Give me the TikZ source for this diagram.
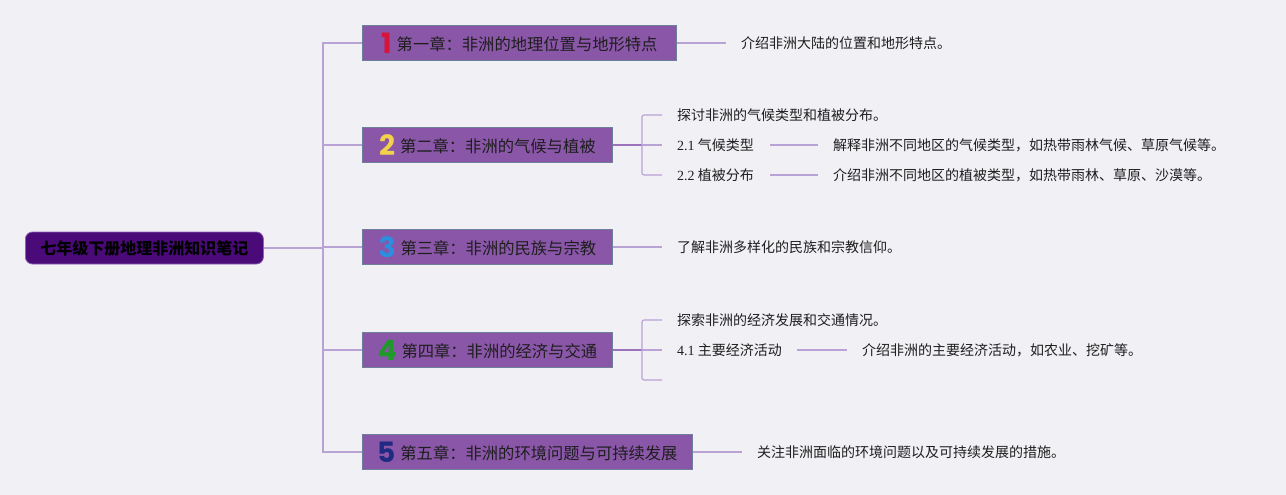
\documentclass[tikz,border=0pt]{standalone}
\usepackage{fontspec}
\setmainfont{Liberation Serif}
\newfontfamily\cjk{Noto Sans CJK SC}
\newfontfamily\numfont{Poppins}
\definecolor{bg}{HTML}{F1F0F5}
\definecolor{boxfill}{HTML}{8A56A8}
\definecolor{boxline}{HTML}{6F7E99}
\definecolor{rootfill}{HTML}{4A0A78}
\definecolor{rootline}{HTML}{8C62B4}
\definecolor{conn}{HTML}{B9A2D6}
\definecolor{connd}{HTML}{9C72BC}
\definecolor{txt}{HTML}{1E1E1E}
\definecolor{nA}{HTML}{D8143A}
\definecolor{nB}{HTML}{F2D24A}
\definecolor{nC}{HTML}{2A8FE0}
\definecolor{nD}{HTML}{1E9A2A}
\definecolor{nE}{HTML}{1F2A82}
\newcommand{\chapnum}[2]{\raisebox{-2.5pt}{\numfont\bfseries\fontsize{28}{28}\selectfont\textcolor{#1}{#2}}\hspace{5pt}}
\begin{document}
\begin{tikzpicture}[x=1pt,y=-1pt,
  rootbox/.style={draw=rootline, line width=0.8pt, fill=rootfill, rounded corners=7pt,
    minimum height=32pt, inner sep=0pt, text=black,
    font=\cjk\bfseries\fontsize{16}{18}\selectfont},
  chapbox/.style={draw=boxline, line width=0.7pt, fill=boxfill, minimum height=35pt,
    inner sep=0pt, text=txt, font=\cjk\fontsize{16.3}{19}\selectfont, anchor=west},
  desc/.style={anchor=west, inner sep=0pt, text=txt, font=\cjk\fontsize{14}{16}\selectfont},
  ln/.style={draw=conn, line width=1.1pt},
  lnd/.style={draw=connd, line width=1.4pt},
]
\fill[bg] (0,0) rectangle (1286,495);
\useasboundingbox (0,0) rectangle (1286,495);

% root
\node[rootbox, minimum width=238pt, anchor=west] (root) at (25,248) {七年级下册地理非洲知识笔记};
\coordinate (j) at (323,248);

% chapters
\node[chapbox, minimum width=314pt] (c1) at (362,43) {\chapnum{nA}{1}第一章：非洲的地理位置与地形特点};
\node[chapbox, minimum width=250pt] (c2) at (362,145) {\chapnum{nB}{2}第二章：非洲的气候与植被};
\node[chapbox, minimum width=250pt] (c3) at (362,247) {\chapnum{nC}{3}第三章：非洲的民族与宗教};
\node[chapbox, minimum width=250pt] (c4) at (362,350) {\chapnum{nD}{4}第四章：非洲的经济与交通};
\node[chapbox, minimum width=330pt] (c5) at (362,452) {\chapnum{nE}{5}第五章：非洲的环境问题与可持续发展};

% trunk
\draw[ln] (root.east) -- (j);
\draw[ln] (c1.west) -- (c1.west -| j) -- (c5.west -| j) -- (c5.west);
\draw[ln] (c2.west) -- (c2.west -| j);
\draw[ln] (c3.west) -- (c3.west -| j);
\draw[ln] (c4.west) -- (c4.west -| j);

% chapter 1
\node[desc] (d1) at (741,43) {介绍非洲大陆的位置和地形特点。};
\draw[ln] (c1.east) -- ([xshift=-15pt]d1.west);

% chapter 2
\coordinate (b2) at (642,145);
\node[desc] (s2a) at (677,115) {探讨非洲的气候类型和植被分布。};
\node[desc] (s21) at (677,145) {{\rmfamily 2.1} 气候类型};
\node[desc] (s22) at (677,175) {{\rmfamily 2.2} 植被分布};
\draw[lnd] (c2.east) -- (b2);
\draw[ln, rounded corners=2pt] ([xshift=-15pt]s2a.west) -- (s2a.west -| b2) -- (s22.west -| b2) -- ([xshift=-15pt]s22.west);
\draw[ln] (b2) -- ([xshift=-15pt]s21.west);
\node[desc] (d21) at (833,145) {解释非洲不同地区的气候类型，如热带雨林气候、草原气候等。};
\node[desc] (d22) at (833,175) {介绍非洲不同地区的植被类型，如热带雨林、草原、沙漠等。};
\draw[ln] ([xshift=-63pt]d21.west) -- ([xshift=-15pt]d21.west);
\draw[ln] ([xshift=-63pt]d22.west) -- ([xshift=-15pt]d22.west);

% chapter 3
\node[desc] (d3) at (677,247) {了解非洲多样化的民族和宗教信仰。};
\draw[ln] (c3.east) -- ([xshift=-15pt]d3.west);

% chapter 4
\coordinate (b4) at (642,350);
\node[desc] (s4a) at (677,320) {探索非洲的经济发展和交通情况。};
\node[desc] (s41) at (677,350) {{\rmfamily 4.1} 主要经济活动};
\coordinate (e4) at (677,380);
\draw[lnd] (c4.east) -- (b4);
\draw[ln, rounded corners=2pt] ([xshift=-15pt]s4a.west) -- (s4a.west -| b4) -- (e4 -| b4) -- ([xshift=-15pt]e4);
\draw[ln] (b4) -- ([xshift=-15pt]s41.west);
\node[desc] (d41) at (862,350) {介绍非洲的主要经济活动，如农业、挖矿等。};
\draw[ln] ([xshift=-65pt]d41.west) -- ([xshift=-15pt]d41.west);

% chapter 5
\node[desc] (d5) at (757,452) {关注非洲面临的环境问题以及可持续发展的措施。};
\draw[ln] (c5.east) -- ([xshift=-15pt]d5.west);
\end{tikzpicture}
\end{document}
